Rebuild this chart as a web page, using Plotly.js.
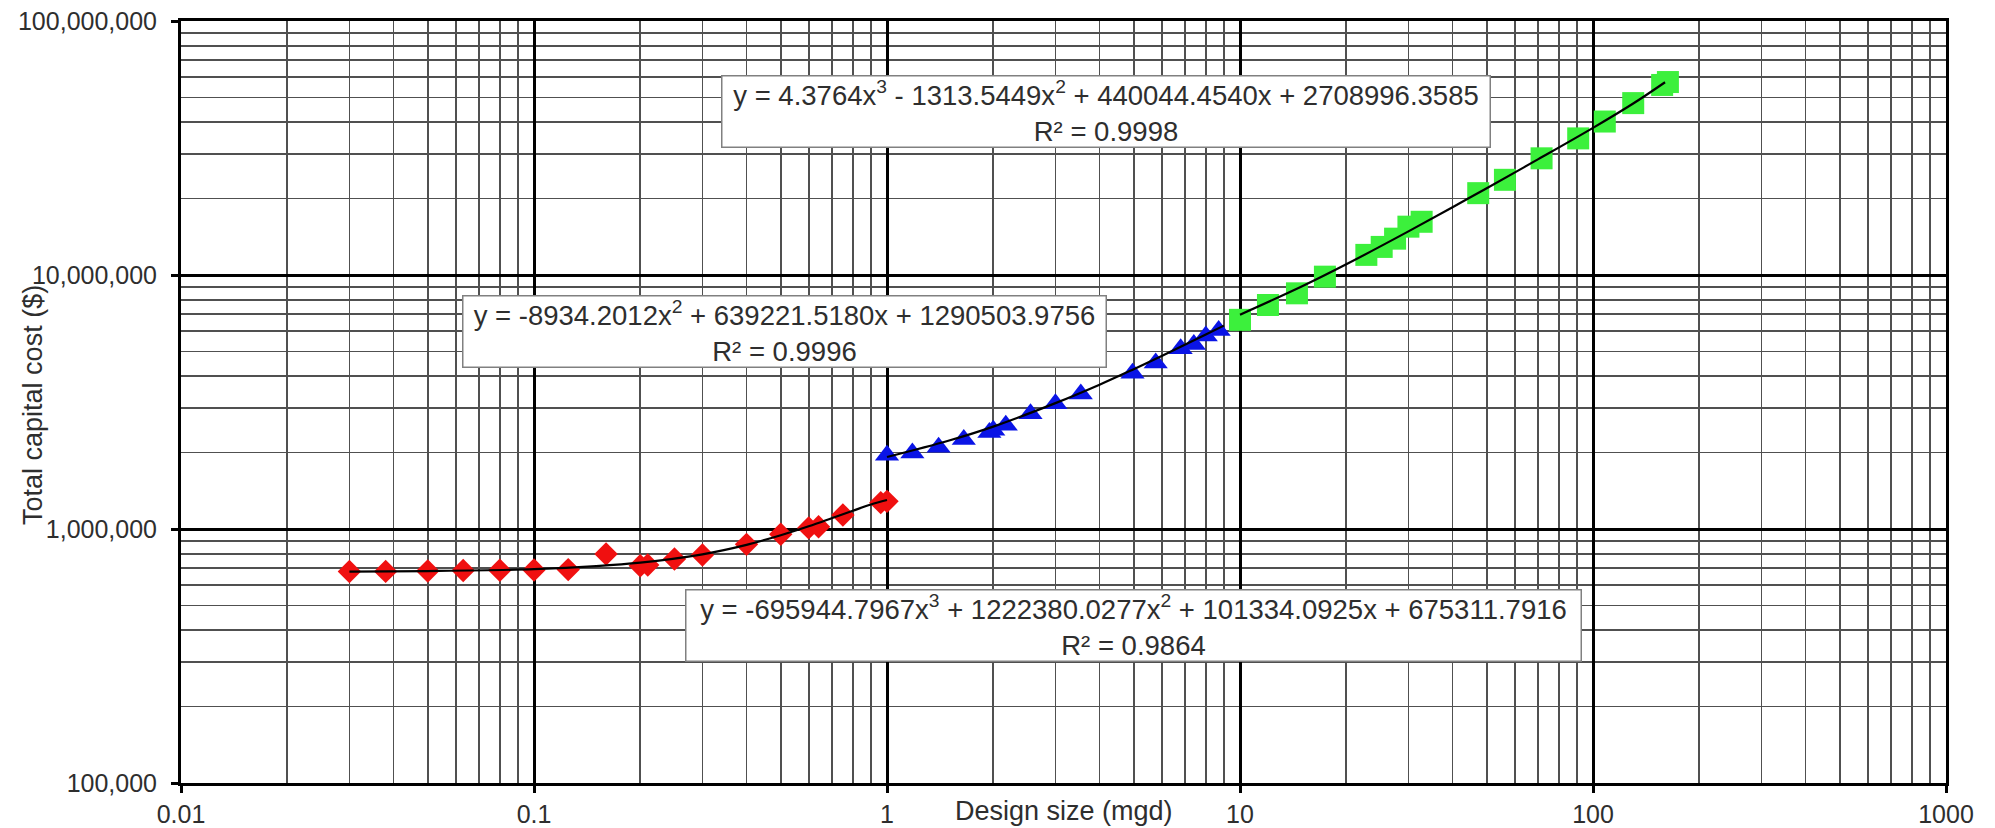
<!DOCTYPE html>
<html>
<head>
<meta charset="utf-8">
<script src="https://cdn.plot.ly/plotly-3.0.1.min.js"></script>
<style>html,body{margin:0;padding:0;background:#fff;}#chart{width:1995px;height:828px;}</style>
</head>
<body>
<div id="chart"></div>
<script>
// ---- Data ----
const redX = [0.03, 0.038, 0.05, 0.063, 0.08, 0.1, 0.125, 0.16, 0.2, 0.21, 0.25, 0.3, 0.4, 0.5, 0.6, 0.64, 0.75, 0.96, 1.0];
const redY = [680000, 681000, 683000, 686000, 688000, 690000, 692000, 797000, 717000, 722000, 762000, 790000, 870000, 953000, 1010000, 1020000, 1136000, 1270000, 1285000];

const blueX = [1.0, 1.18, 1.4, 1.65, 1.95, 2.0, 2.17, 2.55, 3.0, 3.54, 4.96, 5.77, 6.79, 7.4, 8.0, 8.7];
const blueY = [1950000, 1990000, 2100000, 2250000, 2400000, 2450000, 2560000, 2840000, 3110000, 3400000, 4100000, 4500000, 5120000, 5330000, 5750000, 6050000];

const greenX = [10, 12, 14.5, 17.4, 22.8, 25.2, 27.5, 30, 32.7, 47.3, 56.3, 71.5, 90.8, 108, 130, 157, 163];
const greenY = [6660000, 7620000, 8470000, 9850000, 12000000, 12900000, 13900000, 15500000, 16200000, 21000000, 23700000, 28800000, 34500000, 40200000, 47500000, 56000000, 57500000];

// trend lines as drawn
const redTrendX = [0.03, 0.05, 0.1, 0.15, 0.2, 0.3, 0.4, 0.5, 0.6, 0.7, 0.8, 0.9, 1.0];
const redTrendY = [679000, 683000, 695000, 714000, 737000, 795000, 866000, 945000, 1025000, 1105000, 1180000, 1248000, 1300000];
const blueTrendX = [1, 1.5, 2, 3, 4, 5, 6, 7, 8, 9];
const blueTrendY = [1920000, 2230000, 2530000, 3130000, 3700000, 4260000, 4800000, 5330000, 5830000, 6320000];
const greenTrendX = [10, 15, 20, 30, 40, 50, 70, 100, 130, 160];
const greenTrendY = [6980000, 9030000, 11020000, 14850000, 18490000, 21970000, 28580000, 37950000, 47330000, 57400000];

// equations
const eqGreen = 'y = 4.3764x<sup>3</sup> - 1313.5449x<sup>2</sup> + 440044.4540x + 2708996.3585<br>R² = 0.9998';
const eqBlue = 'y = -8934.2012x<sup>2</sup> + 639221.5180x + 1290503.9756<br>R² = 0.9996';
const eqRed = 'y = -695944.7967x<sup>3</sup> + 1222380.0277x<sup>2</sup> + 101334.0925x + 675311.7916<br>R² = 0.9864';

// ticks
const xTickVals = [0.01, 0.1, 1, 10, 100, 1000];
const xTickText = ['0.01', '0.1', '1', '10', '100', '1000'];
const yTickVals = [100000, 1000000, 10000000, 100000000];
const yTickText = ['100,000', '1,000,000', '10,000,000', '100,000,000'];

const xTitle = 'Design size (mgd)';
const yTitle = 'Total capital cost ($)';

// minor grid positions (2..9 within each decade)
function minorVals(lo, hi) {
  const out = [];
  for (let e = lo; e < hi; e++) for (let d = 2; d <= 9; d++) out.push(d * Math.pow(10, e));
  return out;
}

const FONT = 'Liberation Sans, Arial, sans-serif';
const TXT = '#2e2e2e';

const traces = [
  {x: redX, y: redY, mode: 'markers', type: 'scatter',
   marker: {symbol: 'diamond', size: 18, color: '#f01010'}},
  {x: blueX, y: blueY, mode: 'markers', type: 'scatter',
   marker: {symbol: 'triangle-up', size: 21, color: '#0a14e6'}},
  {x: greenX, y: greenY, mode: 'markers', type: 'scatter',
   marker: {symbol: 'square', size: 22, color: '#3cf03c'}},
  {x: redTrendX, y: redTrendY, mode: 'lines', type: 'scatter', line: {color: '#000', width: 2.2, shape: 'spline'}},
  {x: blueTrendX, y: blueTrendY, mode: 'lines', type: 'scatter', line: {color: '#000', width: 2.2, shape: 'spline'}},
  {x: greenTrendX, y: greenTrendY, mode: 'lines', type: 'scatter', line: {color: '#000', width: 2.2, shape: 'spline'}}
];

const axisCommon = {
  type: 'log',
  showline: true, linecolor: '#000', linewidth: 3, mirror: true,
  showgrid: true, gridcolor: '#000', gridwidth: 3,
  ticks: 'outside', ticklen: 7, tickwidth: 3, tickcolor: '#000',
  tickmode: 'array',
  tickfont: {family: FONT, size: 25, color: TXT},
  zeroline: false
};

const layout = {
  width: 1995, height: 828,
  margin: {l: 181, r: 49, t: 21, b: 45},
  paper_bgcolor: '#fff', plot_bgcolor: '#fff',
  showlegend: false,
  font: {family: FONT, color: TXT, size: 25},
  xaxis: Object.assign({}, axisCommon, {
    range: [-2, 3], tickvals: xTickVals, ticktext: xTickText, ticklabelstandoff: 0,
    minor: {tickmode: 'array', tickvals: minorVals(-2, 3), showgrid: true, gridcolor: '#505050', gridwidth: 1.8, ticks: ''}
  }),
  yaxis: Object.assign({}, axisCommon, {
    range: [5, 8], tickvals: yTickVals, ticktext: yTickText, ticklabelstandoff: 9,
    minor: {tickmode: 'array', tickvals: minorVals(5, 8), showgrid: true, gridcolor: '#505050', gridwidth: 1.8, ticks: ''}
  }),
  annotations: [
    {xref: 'paper', yref: 'paper', x: 0.5241, y: 0.8812, xanchor: 'center', yanchor: 'middle',
     text: eqGreen, showarrow: false, align: 'center', width: 767,
     font: {family: FONT, size: 27.5, color: TXT}, bgcolor: '#fff', bordercolor: '#808080', borderwidth: 1.5, borderpad: 0},
    {xref: 'paper', yref: 'paper', x: 0.3422, y: 0.5919, xanchor: 'center', yanchor: 'middle',
     text: eqBlue, showarrow: false, align: 'center', width: 642,
     font: {family: FONT, size: 27.5, color: TXT}, bgcolor: '#fff', bordercolor: '#808080', borderwidth: 1.5, borderpad: 0},
    {xref: 'paper', yref: 'paper', x: 0.5399, y: 0.2073, xanchor: 'center', yanchor: 'middle',
     text: eqRed, showarrow: false, align: 'center', width: 894,
     font: {family: FONT, size: 27.5, color: TXT}, bgcolor: '#fff', bordercolor: '#808080', borderwidth: 1.5, borderpad: 0},
    {xref: 'paper', yref: 'paper', x: 0.5003, y: -0.037, xanchor: 'center', yanchor: 'middle',
     text: xTitle, showarrow: false, font: {family: FONT, size: 27, color: TXT}},
    {xref: 'paper', yref: 'paper', x: -0.0839, y: 0.496, xanchor: 'center', yanchor: 'middle',
     text: yTitle, textangle: -90, showarrow: false, font: {family: FONT, size: 27, color: TXT}}
  ]
};

Plotly.newPlot('chart', traces, layout, {displayModeBar: false, staticPlot: true});
</script>
</body>
</html>
